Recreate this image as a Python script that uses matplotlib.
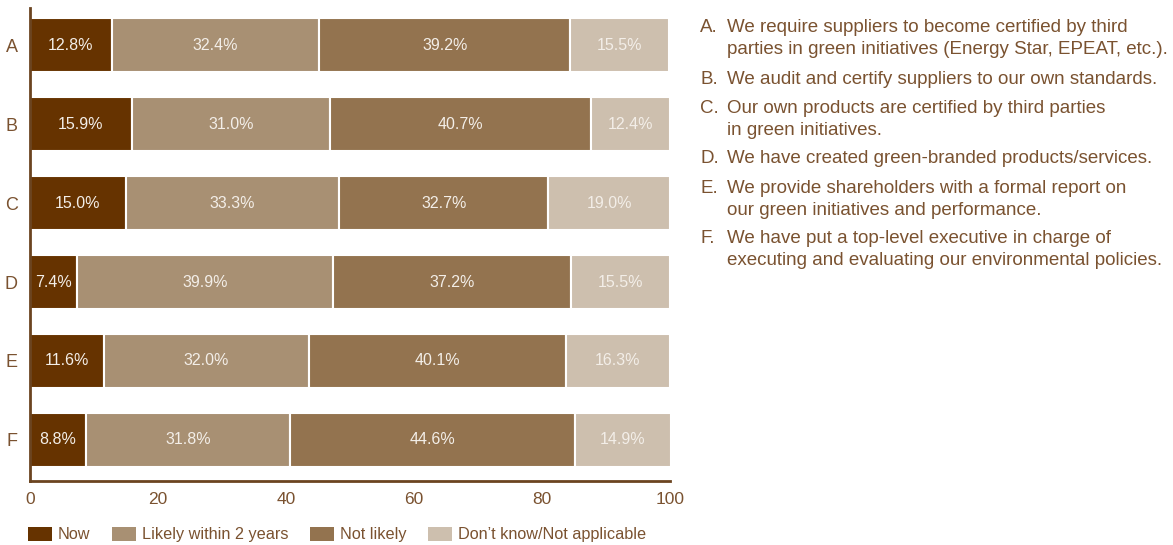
import matplotlib
matplotlib.use("Agg")
import matplotlib.pyplot as plt
import numpy as np
from matplotlib.patches import Patch

categories = ["A", "B", "C", "D", "E", "F"]
series_names = ["Now", "Likely within 2 years", "Not likely", "Don\u2019t know/Not applicable"]
now = [12.8, 15.9, 15.0, 7.4, 11.6, 8.8]
likely = [32.4, 31.0, 33.3, 39.9, 32.0, 31.8]
not_likely = [39.2, 40.7, 32.7, 37.2, 40.1, 44.6]
dont_know = [15.5, 12.4, 19.0, 15.5, 16.3, 14.9]
colors = ["#663300", "#A89073", "#93734F", "#CDBFAE"]
descriptions = [
    "We require suppliers to become certified by third\nparties in green initiatives (Energy Star, EPEAT, etc.).",
    "We audit and certify suppliers to our own standards.",
    "Our own products are certified by third parties\nin green initiatives.",
    "We have created green-branded products/services.",
    "We provide shareholders with a formal report on\nour green initiatives and performance.",
    "We have put a top-level executive in charge of\nexecuting and evaluating our environmental policies.",
]
xticks = [0, 20, 40, 60, 80, 100]

brown = "#7A5230"
spine_col = "#6B4420"
plt.rcParams['font.family'] = ['Liberation Sans', 'DejaVu Sans']

fig = plt.figure(figsize=(11.73, 5.45), dpi=100)
ax = fig.add_axes([30/1173, 64/545, 640/1173, 473/545])

y = np.arange(len(categories))
series = [now, likely, not_likely, dont_know]
left = np.zeros(len(categories))
for vals, col in zip(series, colors):
    vals = np.array(vals)
    ax.barh(y, vals, left=left, height=0.68, color=col, edgecolor="white", linewidth=1.5)
    for yi, l, v in zip(y, left, vals):
        ax.text(l + v/2, yi, f"{v:.1f}%", ha="center", va="center",
                color="#F3EEE8", fontsize=11.5)
    left += vals

ax.set_xlim(0, 100)
ax.set_ylim(5.52, -0.47)
ax.set_yticks(y)
ax.set_yticklabels(categories, fontsize=13, color=brown)
ax.set_xticks(xticks)
ax.set_xticklabels([str(t) for t in xticks], fontsize=12.5, color=brown)
ax.tick_params(length=0, pad=8)
ax.tick_params(axis='y', pad=9)
for s in ["top", "right"]:
    ax.spines[s].set_visible(False)
for s in ["left", "bottom"]:
    ax.spines[s].set_color(spine_col)
    ax.spines[s].set_linewidth(2)

handles = [Patch(facecolor=c, edgecolor="none") for c in colors]
leg = fig.legend(handles, series_names, loc="lower left", bbox_to_anchor=(13/1173, -0.022),
                 ncol=4, frameon=False, fontsize=11.7, handlelength=1.5, handleheight=0.9,
                 handletextpad=0.37, columnspacing=1.3, labelcolor=brown)

# right-side descriptions
tops = [19, 71, 100, 150, 180, 230]
for cat, desc, t in zip(categories, descriptions, tops):
    fig.text(700/1173, 1 - t/545, cat + ".", ha="left", va="top", fontsize=13.5,
             color=brown, linespacing=1.38)
    fig.text(727/1173, 1 - t/545, desc, ha="left", va="top", fontsize=13.5,
             color=brown, linespacing=1.38)

fig.savefig("out.png", dpi=100)
